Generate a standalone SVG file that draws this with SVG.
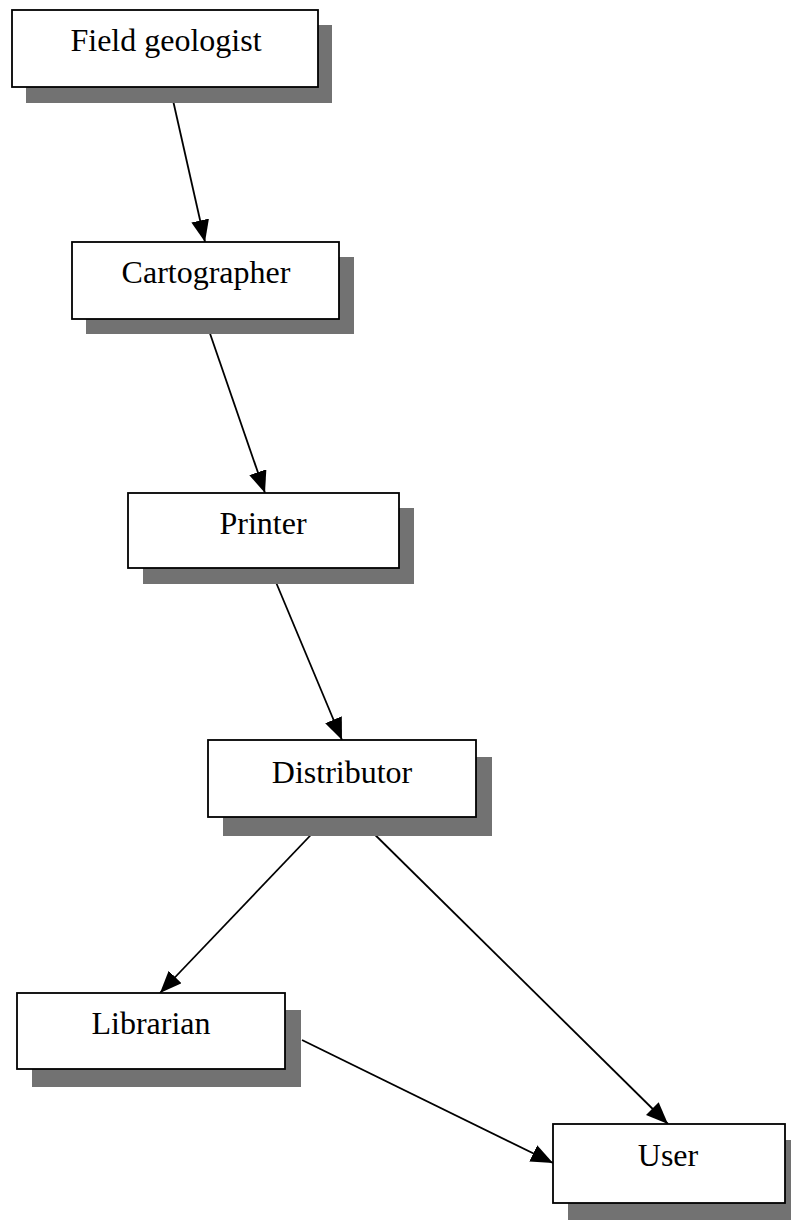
<svg xmlns="http://www.w3.org/2000/svg" width="791" height="1220" viewBox="0 0 791 1220">
<style>
.shadow{fill:#727272}
.box{fill:#ffffff;stroke:#000000;stroke-width:1.8}
.label{font-family:"Liberation Serif","Times New Roman",serif;font-size:32px;fill:#000000;text-anchor:middle}
.edge{stroke:#000000;stroke-width:1.8;fill:none;marker-end:url(#arrow)}
</style>
<defs>
<marker id="arrow" markerWidth="24" markerHeight="20" refX="22" refY="9" orient="auto" markerUnits="userSpaceOnUse">
<path d="M0,0 L22,9 L0,18 Z" fill="#000000"/>
</marker>
</defs>
<g id="connectors">
<line class="edge" x1="170" y1="87" x2="205" y2="242"/>
<line class="edge" x1="205" y1="319" x2="265" y2="493"/>
<line class="edge" x1="270" y1="568" x2="342" y2="740"/>
<line class="edge" x1="328" y1="817" x2="160" y2="993"/>
<line class="edge" x1="357" y1="817" x2="668" y2="1124"/>
<line class="edge" x1="302" y1="1040" x2="553" y2="1163"/>
</g>
<g id="node-field-geologist">
<rect class="shadow" x="26" y="25" width="306" height="78"/>
<rect class="box" x="12" y="10" width="306" height="77"/>
<text class="label" x="166" y="51">Field geologist</text>
</g>
<g id="node-cartographer">
<rect class="shadow" x="86" y="257" width="268" height="77"/>
<rect class="box" x="72" y="242" width="267" height="77"/>
<text class="label" x="206" y="283">Cartographer</text>
</g>
<g id="node-printer">
<rect class="shadow" x="143" y="508" width="271" height="76"/>
<rect class="box" x="128" y="493" width="271" height="75"/>
<text class="label" x="263" y="534">Printer</text>
</g>
<g id="node-distributor">
<rect class="shadow" x="223" y="757" width="269" height="79"/>
<rect class="box" x="208" y="740" width="268" height="77"/>
<text class="label" x="342" y="783">Distributor</text>
</g>
<g id="node-librarian">
<rect class="shadow" x="32" y="1010" width="269" height="77"/>
<rect class="box" x="17" y="993" width="268" height="76"/>
<text class="label" x="151" y="1034">Librarian</text>
</g>
<g id="node-user">
<rect class="shadow" x="568" y="1140" width="232" height="80"/>
<rect class="box" x="553" y="1124" width="232" height="79"/>
<text class="label" x="668" y="1166">User</text>
</g>
</svg>
